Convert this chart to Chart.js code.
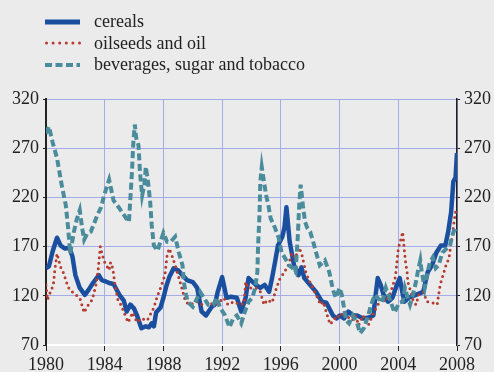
<!DOCTYPE html>
<html>
<head>
<meta charset="utf-8">
<script src="https://cdn.jsdelivr.net/npm/chart.js@4.4.0/dist/chart.umd.min.js"></script>
<style>
  body { margin: 0; background: #ebebeb; }
  #wrap { position: relative; width: 494px; height: 372px; }
  #legend { position: absolute; left: 45px; top: 11px; font-family: "Liberation Serif", serif; font-size: 18px; color: #222; }
  .row { display: flex; align-items: center; height: 21.5px; }
  .row svg { width: 36px; height: 8px; margin-right: 13px; }
</style>
</head>
<body>
<div id="wrap">
  <canvas id="chart" width="494" height="372"></canvas>
  <div id="legend">
    <div class="row"><svg><line x1="0" y1="4" x2="35" y2="4" stroke="#1a4fa0" stroke-width="5"/></svg>cereals</div>
    <div class="row"><svg><line x1="1.5" y1="4" x2="35" y2="4" stroke="#b53a2f" stroke-width="3" stroke-linecap="round" stroke-dasharray="0 6.6"/></svg>oilseeds and oil</div>
    <div class="row"><svg><line x1="0" y1="4" x2="35" y2="4" stroke="#4a8c9b" stroke-width="4" stroke-dasharray="7 3.5"/></svg>beverages, sugar and tobacco</div>
  </div>
</div>
<script>
// tick labels
const yearTicks = [1980, 1984, 1988, 1992, 1996, 2000, 2004, 2008];
const valueTicks = [70, 120, 170, 220, 270, 320];

// cereals
const cerealsYear = [1980.0, 1980.2, 1980.45, 1980.75, 1981.0, 1981.3, 1981.6, 1981.8, 1982.0, 1982.3, 1982.65, 1982.9, 1983.2, 1983.6, 1983.8, 1984.0, 1984.3, 1984.6, 1985.0, 1985.3, 1985.5, 1985.75, 1986.0, 1986.2, 1986.5, 1986.8, 1987.0, 1987.2, 1987.35, 1987.5, 1987.8, 1988.0, 1988.2, 1988.4, 1988.7, 1989.0, 1989.3, 1989.6, 1990.0, 1990.3, 1990.6, 1990.9, 1991.3, 1991.5, 1991.7, 1992.0, 1992.3, 1992.6, 1993.0, 1993.3, 1993.6, 1993.8, 1994.3, 1994.6, 1994.9, 1995.2, 1995.4, 1995.6, 1995.8, 1996.1, 1996.25, 1996.38, 1996.6, 1996.9, 1997.2, 1997.4, 1997.6, 1998.0, 1998.4, 1998.8, 1999.1, 1999.55, 1999.8, 2000.0, 2000.3, 2000.6, 2000.9, 2001.2, 2001.6, 2002.0, 2002.3, 2002.45, 2002.6, 2002.8, 2003.0, 2003.3, 2003.6, 2003.9, 2004.1, 2004.4, 2004.7, 2005.2, 2005.7, 2006.0, 2006.3, 2006.6, 2006.9, 2007.2, 2007.4, 2007.6, 2007.75, 2007.9, 2008.0];
const cerealsValue = [148, 150, 165, 179, 171, 168, 169, 160, 141, 128, 121, 126, 133, 141, 136, 135, 133, 132, 121, 115, 104, 111, 107, 100, 87, 89, 88, 92, 89, 103, 108, 118, 130, 139, 148, 146, 141, 136, 134, 128, 104, 100, 109, 111, 124, 139, 118, 119, 118, 104, 118, 138, 131, 128, 131, 124, 138, 154, 171, 180, 190, 210, 175, 151, 141, 149, 138, 131, 124, 114, 113, 100, 97, 100, 97, 104, 100, 100, 97, 98, 100, 120, 138, 131, 121, 114, 118, 131, 138, 114, 118, 121, 124, 144, 151, 164, 171, 171, 185, 205, 236, 240, 265];

// oilseeds and oil
const oilseedsYear = [1980.0, 1980.1, 1980.3, 1980.5, 1980.6, 1980.75, 1981.0, 1981.2, 1981.35, 1981.5, 1981.85, 1982.3, 1982.6, 1982.8, 1983.15, 1983.4, 1983.55, 1983.7, 1983.85, 1984.0, 1984.3, 1984.4, 1984.55, 1984.7, 1984.9, 1985.1, 1985.4, 1985.6, 1985.9, 1986.2, 1986.5, 1986.9, 1987.35, 1987.55, 1987.8, 1988.1, 1988.25, 1988.4, 1988.6, 1988.8, 1989.0, 1989.2, 1989.5, 1989.8, 1990.3, 1990.6, 1991.0, 1991.4, 1991.7, 1992.1, 1992.4, 1992.8, 1993.2, 1993.5, 1993.6, 1993.75, 1994.0, 1994.3, 1994.6, 1994.85, 1995.1, 1995.4, 1995.7, 1995.95, 1996.2, 1996.5, 1996.75, 1997.0, 1997.2, 1997.4, 1997.55, 1997.7, 1997.9, 1998.1, 1998.3, 1998.5, 1998.7, 1998.9, 1999.1, 1999.35, 1999.6, 1999.8, 2000.0, 2000.3, 2000.6, 2000.85, 2001.1, 2001.3, 2001.6, 2001.95, 2002.3, 2002.5, 2002.9, 2003.1, 2003.4, 2003.6, 2003.8, 2003.9, 2004.0, 2004.15, 2004.3, 2004.4, 2004.5, 2004.6, 2004.65, 2004.85, 2005.0, 2005.2, 2005.4, 2005.7, 2005.95, 2006.3, 2006.65, 2006.85, 2007.05, 2007.25, 2007.45, 2007.65, 2007.8, 2007.9];
const oilseedsValue = [131, 116, 124, 131, 146, 163, 149, 143, 136, 129, 123, 118, 103, 109, 116, 131, 146, 170, 161, 154, 146, 154, 148, 131, 116, 111, 100, 93, 103, 93, 97, 95, 108, 118, 128, 141, 161, 168, 160, 151, 141, 131, 114, 111, 114, 111, 114, 111, 112, 118, 111, 114, 111, 112, 134, 128, 128, 128, 124, 111, 116, 113, 128, 138, 143, 151, 163, 158, 169, 164, 154, 144, 136, 131, 124, 118, 111, 114, 103, 91, 95, 100, 98, 104, 98, 95, 100, 90, 100, 90, 102, 108, 118, 114, 121, 129, 139, 153, 168, 176, 185, 168, 154, 144, 134, 124, 116, 111, 121, 124, 114, 113, 111, 131, 141, 151, 158, 179, 195, 205];

// beverages, sugar and tobacco
const beveragesYear = [1980.0, 1980.2, 1980.45, 1980.75, 1981.1, 1981.35, 1981.5, 1981.65, 1981.9, 1982.1, 1982.3, 1982.45, 1982.6, 1982.8, 1983.05, 1983.5, 1983.75, 1984.0, 1984.3, 1984.6, 1985.0, 1985.45, 1985.65, 1985.85, 1985.95, 1986.05, 1986.15, 1986.3, 1986.4, 1986.55, 1986.7, 1986.8, 1986.95, 1987.1, 1987.2, 1987.35, 1987.6, 1987.8, 1988.0, 1988.25, 1988.5, 1988.8, 1989.05, 1989.3, 1989.4, 1989.55, 1989.65, 1990.0, 1990.25, 1990.5, 1990.75, 1991.05, 1991.4, 1991.65, 1991.85, 1992.2, 1992.5, 1992.75, 1993.0, 1993.3, 1993.55, 1993.8, 1994.05, 1994.25, 1994.4, 1994.45, 1994.55, 1994.6, 1994.7, 1994.85, 1995.0, 1995.15, 1995.3, 1995.6, 1995.85, 1996.05, 1996.3, 1996.55, 1996.75, 1997.0, 1997.15, 1997.25, 1997.35, 1997.5, 1997.65, 1997.8, 1998.0, 1998.2, 1998.4, 1998.65, 1999.0, 1999.3, 1999.55, 1999.75, 2000.0, 2000.15, 2000.3, 2000.45, 2000.65, 2000.9, 2001.2, 2001.4, 2001.65, 2001.95, 2002.15, 2002.4, 2002.6, 2002.9, 2003.15, 2003.5, 2003.75, 2004.05, 2004.3, 2004.45, 2004.65, 2004.8, 2005.0, 2005.2, 2005.35, 2005.5, 2005.6, 2005.8, 2006.0, 2006.15, 2006.35, 2006.55, 2006.75, 2007.0, 2007.3, 2007.5, 2007.7, 2007.85, 2008.0];
const beveragesValue = [285, 292, 276, 260, 230, 212, 190, 163, 185, 198, 207, 190, 177, 183, 185, 202, 210, 224, 238, 217, 209, 199, 195, 244, 276, 294, 280, 273, 246, 222, 233, 251, 236, 215, 192, 171, 166, 175, 184, 175, 175, 180, 164, 151, 133, 121, 114, 109, 116, 124, 118, 111, 111, 118, 108, 100, 88, 97, 100, 92, 104, 114, 118, 128, 144, 171, 205, 236, 251, 236, 222, 212, 199, 189, 179, 164, 158, 151, 149, 144, 179, 212, 233, 212, 195, 189, 185, 175, 164, 151, 156, 144, 126, 118, 128, 121, 108, 95, 92, 100, 92, 82, 87, 100, 111, 121, 118, 113, 128, 113, 103, 113, 114, 128, 118, 111, 121, 134, 146, 156, 144, 128, 144, 154, 159, 148, 151, 164, 168, 170, 182, 189, 186];

const toPoints = (xs, ys) => xs.map((x, i) => ({ x: x, y: ys[i] }));

const font = { family: '"Liberation Serif", serif', size: 18 };
const gridBlue = '#a3ace6';

new Chart(document.getElementById('chart'), {
  type: 'line',
  data: {
    datasets: [
      {
        label: 'beverages, sugar and tobacco',
        data: toPoints(beveragesYear, beveragesValue),
        borderColor: '#4a8c9b',
        borderWidth: 4,
        borderDash: [7, 3.5],
        pointRadius: 0,
        tension: 0,
        yAxisID: 'y'
      },
      {
        label: 'oilseeds and oil',
        data: toPoints(oilseedsYear, oilseedsValue),
        borderColor: '#b53a2f',
        borderWidth: 3,
        borderDash: [0, 5.5],
        borderCapStyle: 'round',
        pointRadius: 0,
        tension: 0,
        yAxisID: 'y'
      },
      {
        label: 'cereals',
        data: toPoints(cerealsYear, cerealsValue),
        borderColor: '#1a4fa0',
        borderWidth: 4.5,
        borderJoinStyle: 'round',
        pointRadius: 0,
        tension: 0,
        yAxisID: 'y'
      }
    ]
  },
  options: {
    responsive: false,
    animation: false,
    layout: { padding: { top: 99, left: 0, right: 0, bottom: 0 } },
    plugins: { legend: { display: false }, tooltip: { enabled: false } },
    scales: {
      x: {
        type: 'linear',
        min: 1980,
        max: 2008,
        afterFit: (scale) => { scale.height = 27; },
        afterBuildTicks: (scale) => { scale.ticks = yearTicks.map(v => ({ value: v })); },
        ticks: { font: font, color: '#222', padding: 3, maxRotation: 0, callback: (v) => String(v) },
        grid: { color: gridBlue, tickColor: '#222', tickLength: 6, lineWidth: 1 },
        border: { color: '#ffffff', width: 2 }
      },
      y: {
        position: 'left',
        min: 70,
        max: 320,
        afterFit: (scale) => { scale.width = 46; },
        afterBuildTicks: (scale) => { scale.ticks = valueTicks.map(v => ({ value: v })); },
        ticks: { font: font, color: '#222', padding: 4 },
        grid: { color: gridBlue, tickColor: '#222', tickLength: 3 },
        border: { color: '#222', width: 2 }
      },
      y2: {
        position: 'right',
        min: 70,
        max: 320,
        afterFit: (scale) => { scale.width = 37; },
        afterBuildTicks: (scale) => { scale.ticks = valueTicks.map(v => ({ value: v })); },
        ticks: { font: font, color: '#222', padding: 4 },
        grid: { drawOnChartArea: false, tickColor: '#222', tickLength: 3 },
        border: { color: '#222', width: 1.5 }
      }
    }
  }
});
</script>
</body>
</html>
